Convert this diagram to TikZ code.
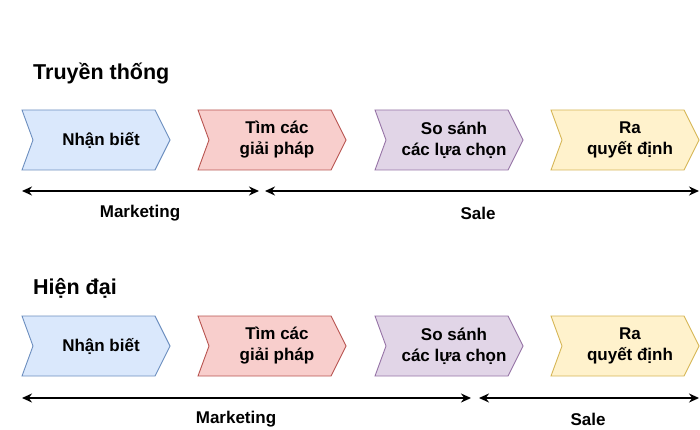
\documentclass[tikz,border=0pt]{standalone}
\usepackage{fontspec}
\setmainfont{Liberation Sans}
\usetikzlibrary{arrows.meta}
\definecolor{bF}{HTML}{DAE8FC}\definecolor{bS}{HTML}{6C8EBF}
\definecolor{rF}{HTML}{F8CECC}\definecolor{rS}{HTML}{B85450}
\definecolor{pF}{HTML}{E1D5E7}\definecolor{pS}{HTML}{9673A6}
\definecolor{yF}{HTML}{FFF2CC}\definecolor{yS}{HTML}{D6B656}
\tikzset{
  lbl/.style={font=\bfseries\fontsize{17}{21}\selectfont, align=center, inner sep=0},
  title/.style={font=\bfseries\fontsize{21.5}{25}\selectfont, anchor=west, inner sep=0},
  span/.style={line width=1.6pt, {Stealth[length=10pt,width=9pt]}-{Stealth[length=10pt,width=9pt]}},
}
\newcommand{\chev}[6]{% x, y, fill, stroke, name, text
  \filldraw[fill=#3, draw=#4, line width=0.9pt] (#1,#2) -- ++(133,0) -- ++(15,30) -- ++(-15,30) -- ++(-133,0) -- ++(11,-30) -- cycle;
  \node[lbl] (#5) at ({#1+79},{#2+30}) {#6};
}
\begin{document}
\begin{tikzpicture}[x=1pt,y=-1pt]
\useasboundingbox (0,0) rectangle (700,430);
\node[title] (t1) at (33,74) {Truyền thống};
\chev{22}{110}{bF}{bS}{a1}{Nhận biết}
\chev{198}{110}{rF}{rS}{a2}{Tìm các\\giải pháp}
\chev{375}{110}{pF}{pS}{a3}{So sánh\\các lựa chọn}
\chev{551}{110}{yF}{yS}{a4}{Ra\\quyết định}
\coordinate (m1a) at (22,191); \coordinate (m1b) at (259,191);
\coordinate (s1a) at (265,191); \coordinate (s1b) at (699,191);
\draw[span] (m1a) -- (m1b);
\draw[span] (s1a) -- (s1b);
\node[lbl] (ml1) at (140,213) {Marketing};
\node[lbl] (sl1) at (478,213) {Sale};

\node[title] (t2) at (33,288) {Hiện đại};
\chev{22}{316}{bF}{bS}{b1}{Nhận biết}
\chev{198}{316}{rF}{rS}{b2}{Tìm các\\giải pháp}
\chev{375}{316}{pF}{pS}{b3}{So sánh\\các lựa chọn}
\chev{551}{316}{yF}{yS}{b4}{Ra\\quyết định}
\coordinate (m2a) at (22,398); \coordinate (m2b) at (471,398);
\coordinate (s2a) at (479,398); \coordinate (s2b) at (699,398);
\draw[span] (m2a) -- (m2b);
\draw[span] (s2a) -- (s2b);
\node[lbl] (ml2) at (236,419) {Marketing};
\node[lbl] (sl2) at (588,419) {Sale};
\end{tikzpicture}
\end{document}
